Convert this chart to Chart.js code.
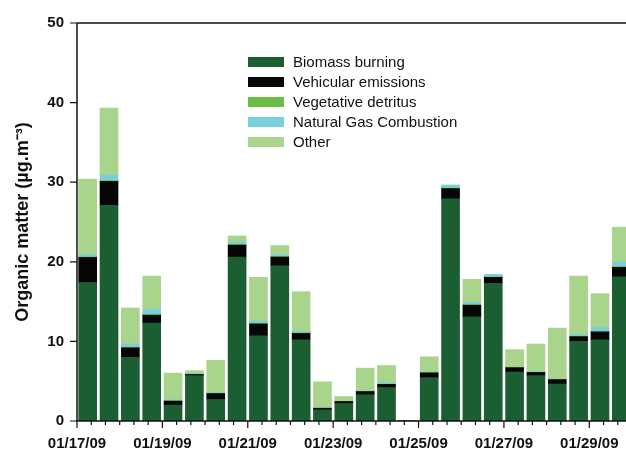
<!DOCTYPE html>
<html lang="en">
<head>
    <meta charset="UTF-8">
    <title>Organic matter source apportionment</title>
    <script src="https://cdn.jsdelivr.net/npm/chart.js"></script>
    <style>
        body {
            margin: 0;
            background: white;
            overflow: hidden;
        }
        .wrap {
            width: 640px;
            height: 450px;
        }
    </style>
</head>
<body>
    <div class="wrap"><canvas id="grafico"></canvas></div>

    <script>
        // sample start times (12 h samples)
        let muestras = ['01/17 06:00', '01/17 18:00', '01/18 06:00', '01/18 18:00', '01/19 06:00', '01/19 18:00',
                        '01/20 06:00', '01/20 18:00', '01/21 06:00', '01/21 18:00', '01/22 06:00', '01/22 18:00',
                        '01/23 06:00', '01/23 18:00', '01/24 06:00', '01/24 18:00', '01/25 06:00', '01/25 18:00',
                        '01/26 06:00', '01/26 18:00', '01/27 06:00', '01/27 18:00', '01/28 06:00', '01/28 18:00',
                        '01/29 06:00', '01/29 18:00'];
        let fechas = ['01/17/09', '01/19/09', '01/21/09', '01/23/09', '01/25/09', '01/27/09', '01/29/09'];

        let biomasa   = [17.4, 27.1, 8.0, 12.3, 2.0, 5.7, 2.7, 20.6, 10.7, 19.5, 10.2, 1.4, 2.2, 3.3, 4.2, 0, 5.45, 27.9, 13.1, 17.3, 6.15, 5.7, 4.65, 10.0, 10.2, 18.1];
        let vehicular = [3.15, 3.0, 1.2, 1.0, 0.5, 0.15, 0.75, 1.5, 1.5, 1.1, 0.8, 0.2, 0.25, 0.4, 0.4, 0, 0.6, 1.3, 1.45, 0.75, 0.55, 0.4, 0.55, 0.6, 1.0, 1.2];
        let vegetal   = [0.05, 0.1, 0.05, 0.05, 0.02, 0.02, 0.02, 0.05, 0.05, 0.05, 0.05, 0.02, 0.02, 0.02, 0.02, 0, 0.02, 0.05, 0.05, 0.05, 0.02, 0.02, 0.02, 0.05, 0.05, 0.1];
        let gasNatural = [0.3, 0.7, 0.4, 0.65, 0.15, 0.1, 0.1, 0.3, 0.3, 0.2, 0.2, 0.05, 0, 0.07, 0.15, 0, 0.05, 0.35, 0.3, 0.3, 0.05, 0.1, 0.05, 0.2, 0.5, 0.55];
        let otros     = [9.5, 8.4, 4.55, 4.2, 3.35, 0.35, 4.05, 0.8, 5.5, 1.2, 5.0, 3.25, 0.6, 2.85, 2.2, 0, 1.95, 0.05, 2.9, 0, 2.2, 3.45, 6.4, 7.35, 4.25, 4.4];

        let yTicks = [0, 10, 20, 30, 40, 50];

        // hours since 01/17 00:00
        function horas(m) {
            let dia = parseInt(m.slice(3, 5));
            let hora = parseInt(m.slice(6, 8));
            return (dia - 17) * 24 + hora;
        }

        function serie(valores) {
            return valores.map((v, i) => ({ x: horas(muestras[i]), y: v }));
        }

        let fuente = "'Liberation Sans', Arial, sans-serif";

        let marcoYMarcas = {
            id: 'marcoYMarcas',
            afterDraw(chart) {
                let ctx = chart.ctx;
                let a = chart.chartArea;
                let sx = chart.scales.x;
                let sy = chart.scales.y;
                ctx.save();
                ctx.strokeStyle = '#111';
                ctx.lineWidth = 1.5;
                ctx.beginPath();
                ctx.moveTo(a.left, a.top);
                ctx.lineTo(a.right, a.top);
                ctx.moveTo(a.left, a.top);
                ctx.lineTo(a.left, a.bottom);
                ctx.lineTo(a.right, a.bottom);
                ctx.stroke();
                ctx.lineWidth = 1.2;
                ctx.beginPath();
                sx.ticks.forEach(t => {
                    let px = sx.getPixelForValue(t.value);
                    let largo = t.value % 48 === 0 ? 7 : 4;
                    ctx.moveTo(px, a.bottom);
                    ctx.lineTo(px, a.bottom + largo);
                });
                sy.ticks.forEach(t => {
                    let py = sy.getPixelForValue(t.value);
                    ctx.moveTo(a.left, py);
                    ctx.lineTo(a.left - 7, py);
                });
                ctx.stroke();

                // legend
                let x0 = a.left + 171;
                let y0 = a.top + 34;
                ctx.font = '15px ' + fuente;
                ctx.textBaseline = 'middle';
                chart.data.datasets.forEach((ds, i) => {
                    let y = y0 + i * 20;
                    ctx.fillStyle = ds.backgroundColor;
                    ctx.fillRect(x0, y, 36, 10);
                    ctx.fillStyle = '#111';
                    ctx.fillText(ds.label, x0 + 45, y + 5.5);
                });
                ctx.restore();
            }
        };

        let ctx = document.getElementById('grafico').getContext('2d');
        let chart = new Chart(ctx, {
            type: 'bar',
            data: {
                datasets: [
                    { label: 'Biomass burning', data: serie(biomasa), backgroundColor: '#1b5e31' },
                    { label: 'Vehicular emissions', data: serie(vehicular), backgroundColor: '#060606' },
                    { label: 'Vegetative detritus', data: serie(vegetal), backgroundColor: '#6abd45' },
                    { label: 'Natural Gas Combustion', data: serie(gasNatural), backgroundColor: '#77cfdc' },
                    { label: 'Other', data: serie(otros), backgroundColor: '#a8d48c' }
                ]
            },
            options: {
                responsive: true,
                maintainAspectRatio: false,
                animation: false,
                datasets: { bar: { barThickness: 18 } },
                layout: { padding: { top: 23, right: 8, bottom: 0, left: 0 } },
                plugins: {
                    legend: { display: false },
                    tooltip: { enabled: false }
                },
                scales: {
                    x: {
                        type: 'linear',
                        stacked: true,
                        min: 0,
                        max: 312,
                        offset: false,
                        border: { display: false },
                        grid: { display: false, drawTicks: false },
                        afterFit(scale) {
                            scale.height = 29;
                            scale.paddingLeft = 0;
                            scale.paddingRight = 0;
                        },
                        afterBuildTicks(scale) {
                            let t = [];
                            for (let v = 0; v <= 312; v += 8) t.push({ value: v });
                            scale.ticks = t;
                        },
                        ticks: {
                            autoSkip: false,
                            maxRotation: 0,
                            padding: 14,
                            color: '#111',
                            font: { family: fuente, size: 15, weight: 'bold' },
                            callback: v => (v % 48 === 0 ? fechas[v / 48] : '')
                        }
                    },
                    y: {
                        stacked: true,
                        min: 0,
                        max: 50,
                        border: { display: false },
                        grid: { display: false, drawTicks: false },
                        afterFit(scale) { scale.width = 77; },
                        afterBuildTicks(scale) {
                            scale.ticks = yTicks.map(v => ({ value: v }));
                        },
                        ticks: {
                            padding: 13,
                            color: '#111',
                            font: { family: fuente, size: 15, weight: 'bold' }
                        },
                        title: {
                            display: true,
                            text: 'Organic matter (µg.m⁻³)',
                            color: '#111',
                            padding: { top: 12, bottom: 0 },
                            font: { family: fuente, size: 18, weight: 'bold' }
                        }
                    }
                }
            },
            plugins: [marcoYMarcas]
        });
    </script>
</body>
</html>
